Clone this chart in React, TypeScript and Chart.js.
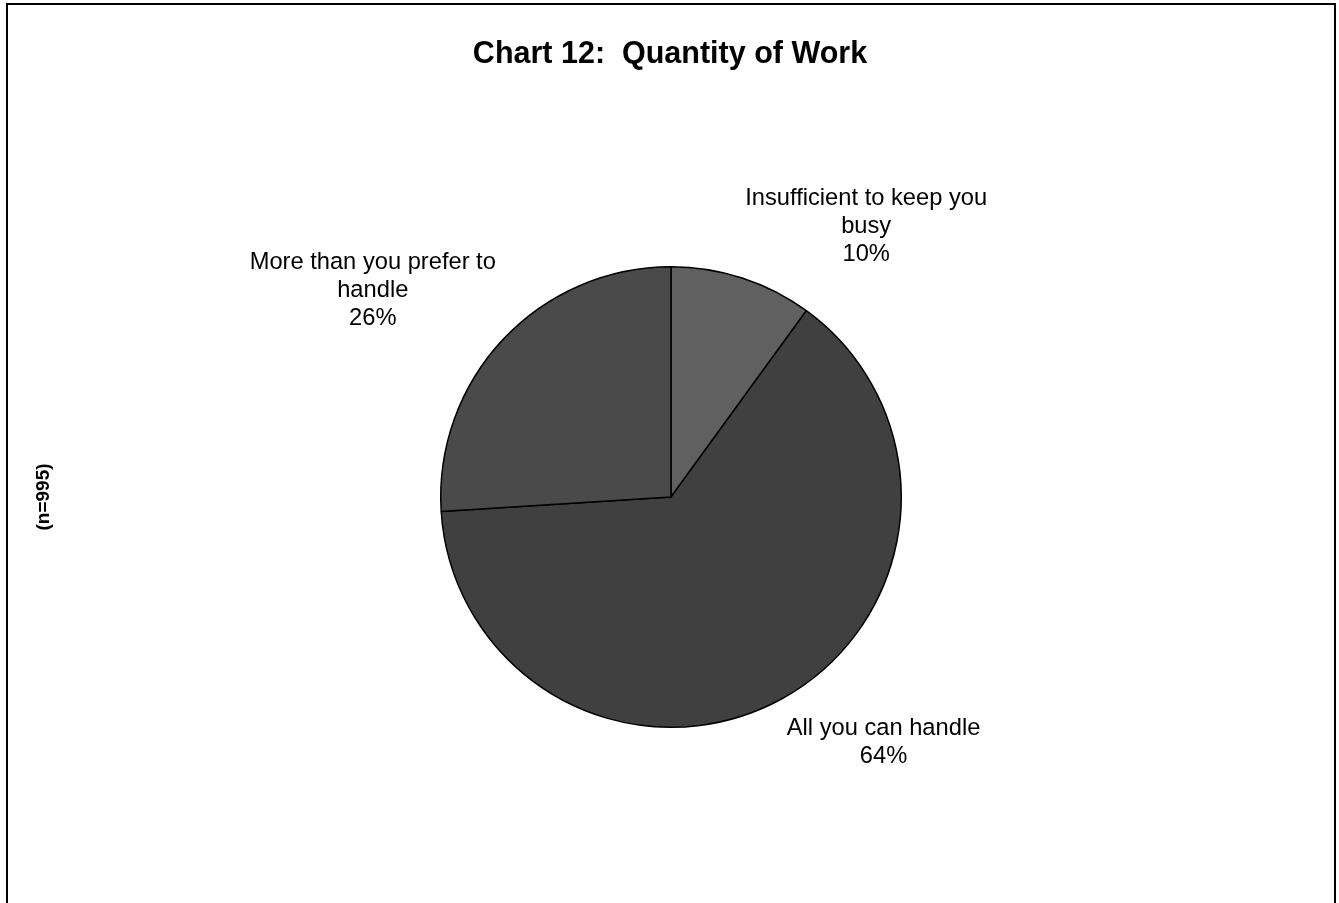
import React, { useEffect, useRef } from "react";
import { Chart, registerables } from "chart.js";

Chart.register(...registerables);

const categories = [
  "Insufficient to keep you busy",
  "All you can handle",
  "More than you prefer to handle",
];
const labelLines = [
  ["Insufficient to keep you", "busy"],
  ["All you can handle"],
  ["More than you prefer to", "handle"],
];
const values = [10, 64, 26];
const sliceColors = ["#606060", "#404040", "#4a4a4a"];
const titleText = "Chart 12:  Quantity of Work";
const sideText = "(n=995)";

const FONT = '"Liberation Sans", Arial, Helvetica, sans-serif';

const decorPlugin = {
  id: "decor",
  beforeDraw(chart: any) {
    const ctx = chart.ctx;
    ctx.save();
    ctx.fillStyle = "#ffffff";
    ctx.fillRect(0, 0, chart.width, chart.height);
    ctx.strokeStyle = "#000000";
    ctx.lineWidth = 2;
    ctx.strokeRect(7, 4, 1328, 1000);
    ctx.restore();
  },
  afterDraw(chart: any) {
    const ctx = chart.ctx;
    ctx.save();
    ctx.fillStyle = "#000000";
    // title
    ctx.font = `bold 30.5px ${FONT}`;
    ctx.textAlign = "center";
    ctx.textBaseline = "alphabetic";
    ctx.fillText(titleText, 670, 63);
    // side text
    ctx.save();
    ctx.translate(44, 497);
    ctx.rotate(-Math.PI / 2);
    ctx.font = `bold 19px ${FONT}`;
    ctx.textAlign = "center";
    ctx.textBaseline = "middle";
    ctx.fillText(sideText, 0, 0);
    ctx.restore();

    // data labels
    const meta = chart.getDatasetMeta(0);
    const total = values.reduce((a, b) => a + b, 0);
    const lineH = 28;
    const gap = 10;
    const gapBelow = 18;
    ctx.font = `23.7px ${FONT}`;
    ctx.textAlign = "center";
    ctx.textBaseline = "middle";
    meta.data.forEach((arc: any, i: number) => {
      const p = arc.getProps(["x", "y", "startAngle", "endAngle", "outerRadius"], true);
      const mid = (p.startAngle + p.endAngle) / 2;
      const dx = Math.cos(mid);
      const dy = Math.sin(mid);
      const ax = p.x + dx * (p.outerRadius + gap);
      const ay = p.y + dy * (p.outerRadius + (dy >= 0 ? gapBelow : gap));
      const lines = [...labelLines[i], Math.round((values[i] / total) * 100) + "%"];
      const w = Math.max(...lines.map((l) => ctx.measureText(l).width));
      const h = lines.length * lineH;
      const left = dx >= 0 ? ax : ax - w;
      const top = dy >= 0 ? ay : ay - h;
      lines.forEach((l, j) => {
        ctx.fillText(l, left + w / 2, top + lineH * (j + 0.5));
      });
    });
    ctx.restore();
  },
};

export default function App() {
  const ref = useRef<HTMLCanvasElement | null>(null);
  useEffect(() => {
    if (!ref.current) return;
    const chart = new Chart(ref.current, {
      type: "pie",
      data: {
        labels: categories,
        datasets: [
          {
            data: values,
            backgroundColor: sliceColors,
            borderColor: "#000000",
            borderWidth: 1.5,
          },
        ],
      },
      options: {
        responsive: false,
        animation: false,
        devicePixelRatio: 1,
        layout: { padding: { left: 440, right: 437, top: 266, bottom: 175 } },
        plugins: {
          legend: { display: false },
          tooltip: { enabled: false },
          title: { display: false },
        },
      },
      plugins: [decorPlugin],
    });
    return () => chart.destroy();
  }, []);
  return (
    <div style={{ position: "fixed", left: 0, top: 0, width: 1339, height: 903, background: "#fff" }}>
      <canvas ref={ref} width={1339} height={903} style={{ display: "block", width: 1339, height: 903 }} />
    </div>
  );
}
